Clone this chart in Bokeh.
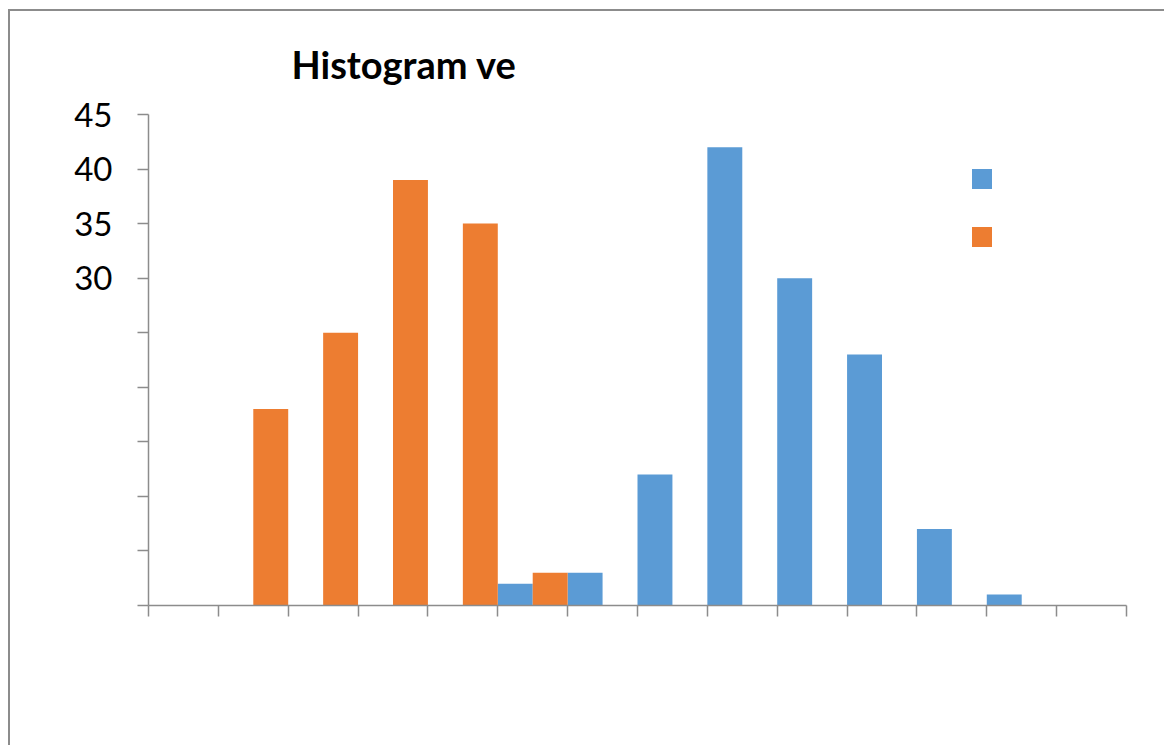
from bokeh.plotting import figure
from bokeh.models import Title, Legend, LegendItem, FixedTicker, Range1d
from bokeh.embed import file_html
from bokeh.resources import INLINE

# Bin positions and counts for the two series
bins = list(range(14))
blue_counts = [0, 0, 0, 0, 0, 2, 3, 12, 42, 30, 23, 7, 1, 0]
orange_counts = [0, 18, 25, 39, 35, 3, 0, 0, 0, 0, 0, 0, 0, 0]
bin_edges = list(range(15))
y_labeled_ticks = [30, 35, 40, 45]
y_unlabeled_ticks = [0, 5, 10, 15, 20, 25]
title_text = "Histogram ve"

BLUE = "#5B9BD5"
ORANGE = "#ED7D31"
GRAY = "#8C8C8C"
FONT = "Lato"

p = figure(width=1156, height=736, output_backend="svg", toolbar_location=None,
           x_range=Range1d(0, 14), y_range=Range1d(0, 45),
           min_border_left=138, min_border_right=40, min_border_top=102, min_border_bottom=142)
p.title = None
p.styles = {"margin-left": "8px", "margin-top": "9px",
            "border-left": "2px solid #8C8C8C", "border-top": "2px solid #8C8C8C"}
p.outline_line_color = None
p.grid.visible = False
p.background_fill_color = "white"
p.border_fill_color = "white"

xs_blue = [b + 0.25 for b in bins]
xs_orange = [b + 0.75 for b in bins]
rb = p.vbar(x=xs_blue, top=blue_counts, width=0.5, fill_color=BLUE, line_color=None)
ro = p.vbar(x=xs_orange, top=orange_counts, width=0.5, fill_color=ORANGE, line_color=None)

# x axis: tick marks at bin edges (as minor ticks, so no labels are drawn)
xa = p.xaxis[0]
xa.ticker = FixedTicker(ticks=[], minor_ticks=bin_edges)
xa.minor_tick_in = 0
xa.minor_tick_out = 11
xa.axis_line_color = GRAY
xa.minor_tick_line_color = GRAY
xa.axis_line_width = 1.5
xa.minor_tick_line_width = 1.5

# y axis: every 5 units ticked, only the upper values labelled
ya = p.yaxis[0]
ya.ticker = FixedTicker(ticks=y_labeled_ticks, minor_ticks=y_unlabeled_ticks)
ya.major_label_text_font = FONT
ya.major_label_text_font_size = "33px"
ya.major_label_text_color = "black"
ya.major_label_standoff = 25
ya.major_tick_in = 0
ya.major_tick_out = 11
ya.minor_tick_in = 0
ya.minor_tick_out = 11
ya.axis_line_color = GRAY
ya.major_tick_line_color = GRAY
ya.minor_tick_line_color = GRAY
ya.axis_line_width = 1.5
ya.major_tick_line_width = 1.5
ya.minor_tick_line_width = 1.5

# Legend swatches without text
legend = Legend(items=[LegendItem(label="", renderers=[rb]), LegendItem(label="", renderers=[ro])],
                location=(821, 356), glyph_width=25, glyph_height=25, label_height=25,
                spacing=33, padding=0, margin=0, border_line_color=None, background_fill_alpha=0,
                label_standoff=0)
p.add_layout(legend)

p.add_layout(Title(text=title_text, align="left", offset=143, standoff=55,
                   text_font=FONT, text_font_size="38px", text_font_style="bold",
                   text_color="black"), "above")

open("out.html", "w").write(file_html(p, INLINE))
